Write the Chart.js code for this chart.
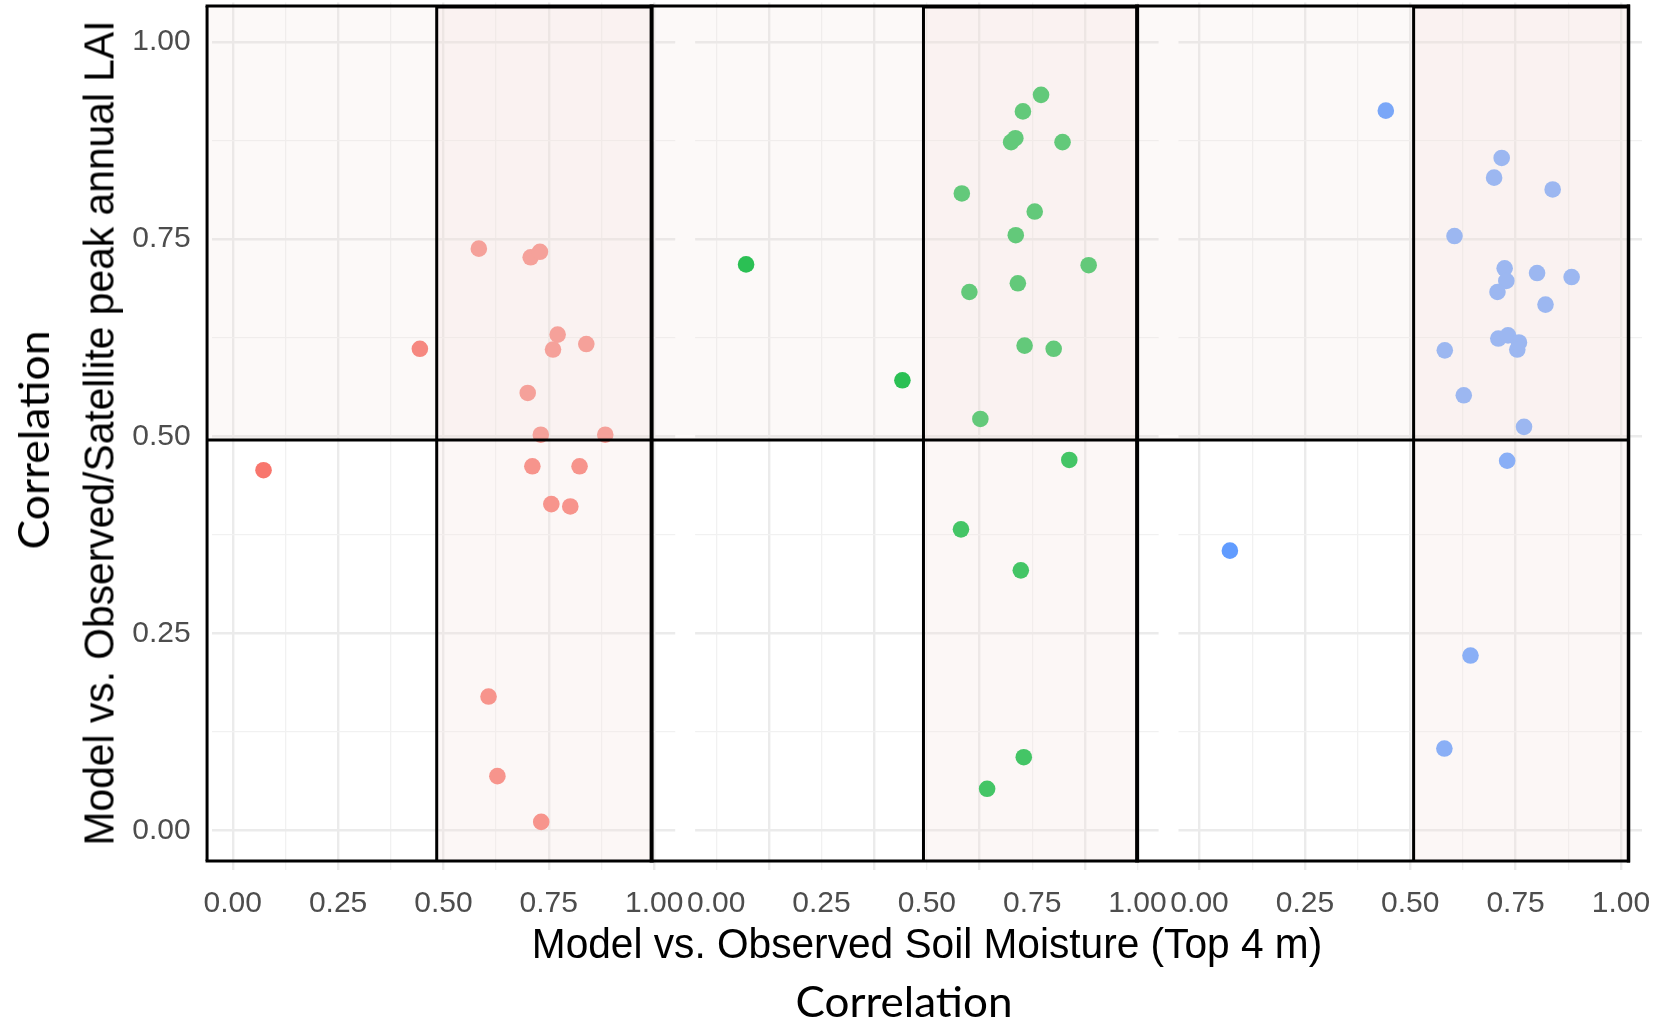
<!DOCTYPE html>
<html>
<head>
<meta charset="utf-8">
<script src="https://cdn.jsdelivr.net/npm/chart.js@4.4.1/dist/chart.umd.min.js"></script>
<style>
    html, body { margin: 0; padding: 0; background: #fff; }
    #wrap { position: relative; width: 1658px; height: 1022px; overflow: hidden; }
    #grafico { position: absolute; left: 0; top: 0; }
    .titulo { position: absolute; white-space: nowrap; line-height: 1; transform-origin: 0 0; color: #000; }
    .narrow { font-family: "Liberation Sans", Arial, sans-serif; font-size: 43px; }
    .calibri { font-family: Lato, "Open Sans", sans-serif; font-size: 42px; }
</style>
</head>
<body>
<div id="wrap">
    <canvas id="grafico" width="1658" height="1022"></canvas>
    <div class="titulo narrow" data-cx="927" data-cy="943" data-len="790" data-rot="0">Model vs. Observed Soil Moisture (Top 4 m)</div>
    <div class="titulo calibri" data-cx="904" data-cy="1001" data-len="217" data-rot="0">Correlation</div>
    <div class="titulo narrow" data-cx="99" data-cy="433" data-len="825" data-rot="1">Model vs. Observed/Satellite peak annual LAI</div>
    <div class="titulo calibri" data-cx="33" data-cy="440" data-len="219" data-rot="1">Correlation</div>
</div>

<script>
/* ===== DADOS ===== */

// tick labels (same for each facet)
const xTickLabels = ['0.00', '0.25', '0.50', '0.75', '1.00'];
const yTickLabels = ['0.00', '0.25', '0.50', '0.75', '1.00'];

// facet 1 (red)
const soilR = [0.584, 0.707, 0.729, 0.444, 0.771, 0.760, 0.839, 0.700, 0.731, 0.884,
               0.073, 0.711, 0.823, 0.756, 0.801, 0.607, 0.628, 0.732];
const laiR  = [0.738, 0.727, 0.734, 0.611, 0.629, 0.610, 0.617, 0.555, 0.502, 0.502,
               0.457, 0.462, 0.462, 0.414, 0.411, 0.170, 0.069, 0.011];

// facet 2 (green)
const soilG = [0.771, 0.728, 0.700, 0.710, 0.822, 0.583, 0.756, 0.711, 0.071, 0.884, 0.716,
               0.601, 0.732, 0.801, 0.442, 0.627, 0.838, 0.581, 0.723, 0.730, 0.643];
const laiG  = [0.933, 0.912, 0.873, 0.878, 0.873, 0.808, 0.785, 0.755, 0.718, 0.717, 0.694,
               0.683, 0.615, 0.611, 0.571, 0.522, 0.470, 0.382, 0.330, 0.093, 0.053];

// facet 3 (blue)
const soilB = [0.442, 0.717, 0.699, 0.838, 0.605, 0.724, 0.728, 0.801, 0.883, 0.707, 0.821,
               0.709, 0.732, 0.758, 0.754, 0.582, 0.627, 0.770, 0.730, 0.072, 0.643, 0.581];
const laiB  = [0.913, 0.853, 0.828, 0.813, 0.754, 0.713, 0.697, 0.707, 0.702, 0.683, 0.667,
               0.624, 0.628, 0.619, 0.610, 0.609, 0.552, 0.512, 0.469, 0.355, 0.222, 0.104];

const coresPontos = ['#F8766D', '#00BA38', '#619CFF'];

// facets share one x scale, each one shifted by this step
const PASSO = 1.1472;

// highlighted boxes (data units, local to each facet)
const boxEsq = -0.061;                       // left edge of first box
const boxDivX = [0.484, 0.492, 0.508];       // x split inside each facet
const boxDir = [0.994, 0.999, 1.018];        // right edge of each facet box
const boxTopo = 1.0457, boxBase = -0.0385, boxDivY = 0.4954;

/* ===== MONTAGEM ===== */

function pontos(xs, ys, k) {
    return xs.map((x, i) => ({ x: x + k * PASSO, y: ys[i] }));
}

const xGrid = [];
for (let k = 0; k < 3; k++) {
    for (let j = 0; j <= 8; j++) xGrid.push(k * PASSO + j * 0.125);
}
const yGrid = [];
for (let j = 0; j <= 8; j++) yGrid.push(j * 0.125);

const corGrade = ctx => (ctx.index % 2 === 0 ? '#ebebeb' : '#f1f1f1');

const pluginFundo = {
    id: 'fundo',
    beforeDatasetsDraw(chart) {
        // remove horizontal grid between facets
        const { ctx, chartArea: a, scales: { x } } = chart;
        ctx.save();
        ctx.fillStyle = '#fff';
        for (let k = 0; k < 2; k++) {
            const x1 = x.getPixelForValue(k * PASSO + 1.05);
            const x2 = x.getPixelForValue((k + 1) * PASSO - 0.05);
            ctx.fillRect(x1, a.top - 1, x2 - x1, a.bottom - a.top + 2);
        }
        ctx.restore();
    },
    afterDatasetsDraw(chart) {
        const { ctx, scales: { x, y } } = chart;
        const px = v => x.getPixelForValue(v);
        const py = v => y.getPixelForValue(v);
        const direita = 2 * PASSO + boxDir[2];
        ctx.save();

        // top band shading (y > 0.5)
        ctx.fillStyle = 'rgba(240, 220, 215, 0.18)';
        ctx.fillRect(px(boxEsq), py(boxTopo), px(direita) - px(boxEsq), py(boxDivY) - py(boxTopo));

        // x > 0.5 shading in each facet
        ctx.fillStyle = 'rgba(245, 225, 222, 0.28)';
        for (let k = 0; k < 3; k++) {
            const a = px(k * PASSO + boxDivX[k]), b = px(k * PASSO + boxDir[k]);
            ctx.fillRect(a, py(boxTopo), b - a, py(boxBase) - py(boxTopo));
        }

        // black outlines
        ctx.strokeStyle = '#000';
        const linha = (x1, y1, x2, y2, w) => {
            ctx.lineWidth = w;
            ctx.beginPath();
            ctx.moveTo(x1, y1);
            ctx.lineTo(x2, y2);
            ctx.stroke();
        };
        const t = py(boxTopo), b = py(boxBase), m = py(boxDivY);
        const esq = px(boxEsq), dir = px(direita);
        linha(esq - 1.5, t, dir + 1.5, t, 3);
        linha(esq - 1.5, b, dir + 1.5, b, 3);
        linha(esq, m, dir, m, 3);
        linha(esq, t, esq, b, 3);
        for (let k = 0; k < 3; k++) {
            const xd = px(k * PASSO + boxDivX[k]);
            const xr = px(k * PASSO + boxDir[k]);
            linha(xd, t, xd, b, 3);
            linha(xr, t - 1.5, xr, b + 1.5, k < 2 ? 4 : 3.5);
            linha(xd, t + 1, xr, t + 1, 3);
        }
        ctx.restore();
    }
};

new Chart(document.getElementById('grafico'), {
    type: 'scatter',
    data: {
        datasets: [
            { data: pontos(soilR, laiR, 0), backgroundColor: coresPontos[0] },
            { data: pontos(soilG, laiG, 1), backgroundColor: coresPontos[1] },
            { data: pontos(soilB, laiB, 2), backgroundColor: coresPontos[2] }
        ]
    },
    options: {
        responsive: false,
        animation: false,
        devicePixelRatio: 1,
        layout: { autoPadding: false, padding: { left: 0, right: 16, top: 2.6, bottom: 0 } },
        elements: { point: { radius: 8.3, borderWidth: 0, hoverRadius: 8.3 } },
        plugins: { legend: { display: false }, tooltip: { enabled: false } },
        scales: {
            x: {
                type: 'linear',
                min: -0.05,
                max: 2 * PASSO + 1.05,
                afterBuildTicks: s => { s.ticks = xGrid.map(v => ({ value: v })); },
                afterFit: s => { s.height = 152; s.paddingLeft = 0; s.paddingRight = 0; },
                border: { display: false },
                grid: { drawTicks: false, color: corGrade, lineWidth: ctx => (ctx.index % 2 === 0 ? 2.4 : 1.3) },
                ticks: {
                    autoSkip: false,
                    maxRotation: 0,
                    padding: 16,
                    color: '#4d4d4d',
                    font: { family: '"Liberation Sans", Arial, sans-serif', size: 30 },
                    callback: (v, i) => ((i % 9) % 2 === 0 ? xTickLabels[(i % 9) / 2] : '')
                }
            },
            y: {
                type: 'linear',
                min: -0.05,
                max: 1.05,
                afterBuildTicks: s => { s.ticks = yGrid.map(v => ({ value: v })); },
                afterFit: s => { s.width = 211.7; s.paddingTop = 0; s.paddingBottom = 0; },
                border: { display: false },
                grid: { drawTicks: false, color: corGrade, lineWidth: ctx => (ctx.index % 2 === 0 ? 2.4 : 1.3) },
                ticks: {
                    padding: 21,
                    color: '#4d4d4d',
                    font: { family: '"Liberation Sans", Arial, sans-serif', size: 30 },
                    callback: (v, i) => (i % 2 === 0 ? yTickLabels[i / 2] : '')
                }
            }
        }
    },
    plugins: [pluginFundo]
});

/* ===== TÍTULOS ===== */

function posicionarTitulos() {
    document.querySelectorAll('.titulo').forEach(el => {
        const s = parseFloat(el.dataset.len) / el.offsetWidth;
        el.style.left = el.dataset.cx + 'px';
        el.style.top = el.dataset.cy + 'px';
        const rot = el.dataset.rot === '1' ? 'rotate(-90deg) ' : '';
        el.style.transform = rot + 'scaleX(' + s + ') translate(-50%, -50%)';
    });
}
posicionarTitulos();
if (document.fonts) document.fonts.ready.then(posicionarTitulos);
</script>
</body>
</html>
